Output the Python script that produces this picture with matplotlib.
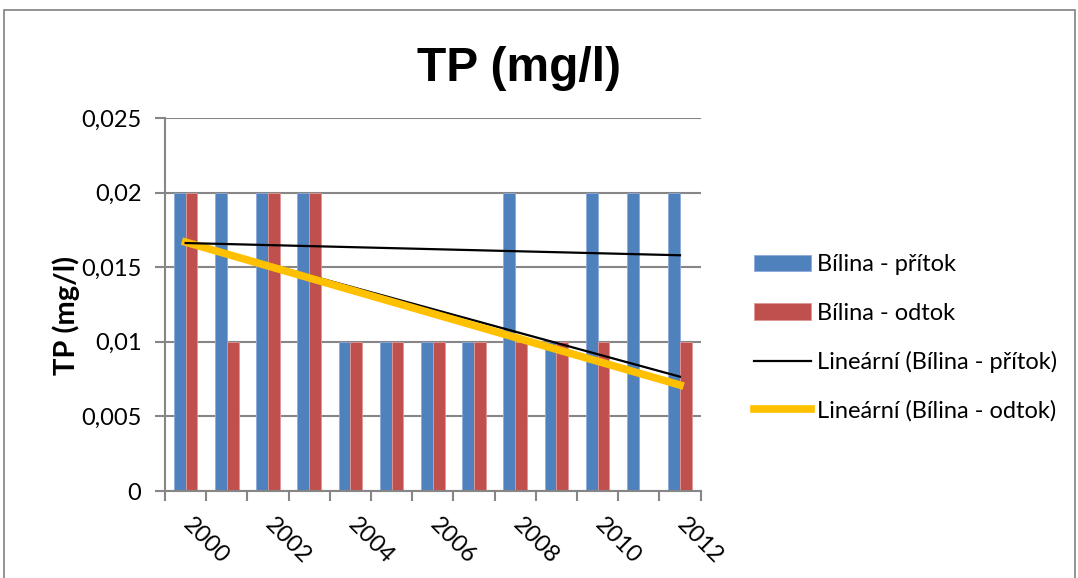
import numpy as np
import matplotlib
matplotlib.use('Agg')
import matplotlib.pyplot as plt
from matplotlib.patches import Rectangle

# data
years = list(range(2000, 2013))
pritok = [0.02, 0.02, 0.02, 0.02, 0.01, 0.01, 0.01, 0.01, 0.02, 0.01, 0.02, 0.02, 0.02]
odtok = [0.02, 0.01, 0.02, 0.02, 0.01, 0.01, 0.01, 0.01, 0.01, 0.01, 0.01, np.nan, 0.01]

# trendline end points (2000, 2012) as drawn
trend_pritok = [0.01662, 0.0158]
trend_odtok = [0.01668, 0.0071]
trend_odtok_thin = [0.01672, 0.00766]

yticks = [0, 0.005, 0.01, 0.015, 0.02, 0.025]
ytick_labels = ['0', '0,005', '0,01', '0,015', '0,02', '0,025']

BLUE = '#4F81BD'
RED = '#C0504D'
YELLOW = '#FFC000'
GRID = '#868686'

plt.rcParams['font.family'] = ['Lato', 'DejaVu Sans']

fig = plt.figure(figsize=(10.78, 5.78), dpi=100)
ax = fig.add_axes([165 / 1078, 1 - 491 / 578, 535.6 / 1078, 373 / 578])

x = np.arange(len(years))
w = 1 / 3.5
b1 = ax.bar(x - w / 2, pritok, w, color=BLUE, edgecolor='#8FAADC', linewidth=0.6,
            label='Bílina - přítok', zorder=2)
b2 = ax.bar(x + w / 2, odtok, w, color=RED, edgecolor='#E09896', linewidth=0.6,
            label='Bílina - odtok', zorder=2)

ends = [x[0], x[-1]]
ax.plot(ends, trend_odtok_thin, color='black', lw=1.6, zorder=3)
l1, = ax.plot(ends, trend_pritok, color='black', lw=1.6, zorder=4,
              label='Lineární (Bílina - přítok)')
l2, = ax.plot(ends, trend_odtok, color=YELLOW, lw=5.5, zorder=3,
              label='Lineární (Bílina - odtok)')

ax.set_xlim(-0.5, len(years) - 0.5)
ax.set_ylim(0, 0.025)
ax.set_yticks(yticks)
ax.set_yticklabels(ytick_labels, fontsize=17)
ax.yaxis.grid(True, color=GRID, lw=1.5, zorder=0)
ax.set_axisbelow(True)

# category ticks between bars, labels every other year
ax.set_xticks(np.arange(-0.5, len(years), 1.0))
ax.set_xticklabels([])
ax.tick_params(axis='x', length=7, width=1.5, color=GRID)
ax.tick_params(axis='y', length=7, width=1.5, color=GRID, pad=10)
for i in range(0, len(years), 2):
    ax.text(x[i] + 0.2, -0.00155, str(years[i]), rotation=-45, rotation_mode='anchor',
            ha='left', va='top', fontsize=17)

for s in ['top', 'right']:
    ax.spines[s].set_visible(False)
for s in ['left', 'bottom']:
    ax.spines[s].set_color(GRID)
    ax.spines[s].set_linewidth(1.5)

fig.text(66 / 1078, 1 - 315 / 578, 'TP (mg/l)', rotation=90, ha='center', va='center',
         fontsize=21, fontweight='bold')
fig.text(0.481, 0.882, 'TP (mg/l)', ha='center', va='center', fontsize=34.5,
         fontweight='bold', family='Liberation Sans')

ax.legend([b1, b2, l1, l2], [h.get_label() for h in [b1, b2, l1, l2]],
          loc='center left', bbox_to_anchor=(733 / 1078, 1 - 338 / 578),
          bbox_transform=fig.transFigure, frameon=False, fontsize=17,
          handlelength=2.4, handletextpad=0.25, labelspacing=1.15)

# outer chart border
fig.patches.append(Rectangle((4 / 1078, -0.05), 1071 / 1078, 1 - 10 / 578 + 0.05,
                             transform=fig.transFigure, fill=False,
                             edgecolor='#808080', lw=1.2))

fig.savefig('out.png', dpi=100)
